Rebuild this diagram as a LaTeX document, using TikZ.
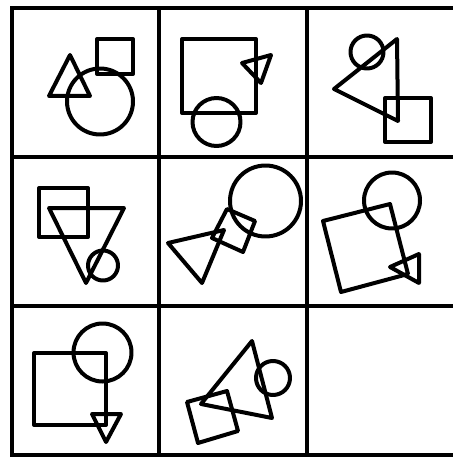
\documentclass[tikz,border=0pt]{standalone}
\begin{document}
\begin{tikzpicture}[x=1pt,y=-1pt,
  gridline/.style={line width=4.5pt,line cap=rect},
  shp/.style={line width=4pt,line join=round,line cap=round}]
\useasboundingbox[fill=white] (0,0) rectangle (452,457);
% grid
\foreach \yy in {8,157,306,455} \draw[gridline] (12,\yy) -- (454,\yy);
\foreach \xx in {12,159,307} \draw[gridline] (\xx,8) -- (\xx,455);
% cell 1,1
\draw[shp] (97,39) rectangle (133,74);
\draw[shp] (70,55) -- (49,96) -- (90,96) -- cycle;
\draw[shp] (100,101.5) circle (33);
% cell 1,2
\draw[shp] (182,39) rectangle (256,113);
\draw[shp] (216.5,122) circle (24);
\draw[shp] (242,63) -- (271,55) -- (261,83) -- cycle;
% cell 1,3
\draw[shp] (367,52) circle (16.5);
\draw[shp] (334,89) -- (397,39) -- (398,121) -- cycle;
\draw[shp] (385,98) rectangle (431,142);
% cell 2,1
\draw[shp] (39,188) rectangle (88,237);
\draw[shp] (49,208) -- (124,208) -- (86,283) -- cycle;
\draw[shp] (103,265.5) circle (15);
% cell 2,2
\draw[shp] (265.5,201) circle (35.5);
\draw[shp] (227,209) -- (255,221) -- (243,252) -- (212,238) -- cycle;
\draw[shp] (168,243) -- (224,230) -- (202,283) -- cycle;
% cell 2,3
\draw[shp] (392,200.5) circle (28);
\draw[shp] (323,221) -- (390,204) -- (408,274) -- (341,292) -- cycle;
\draw[shp] (390,267) -- (419,254) -- (419,283) -- cycle;
% cell 3,1
\draw[shp] (34,353) rectangle (106,425);
\draw[shp] (102.5,352.5) circle (29);
\draw[shp] (92,414) -- (121,414) -- (106,442) -- cycle;
% cell 3,2
\draw[shp] (252,341) -- (201,404) -- (272,418) -- cycle;
\draw[shp] (273,378) circle (17);
\draw[shp] (187,402) -- (227,391) -- (238,431) -- (198,443) -- cycle;
\end{tikzpicture}
\end{document}
